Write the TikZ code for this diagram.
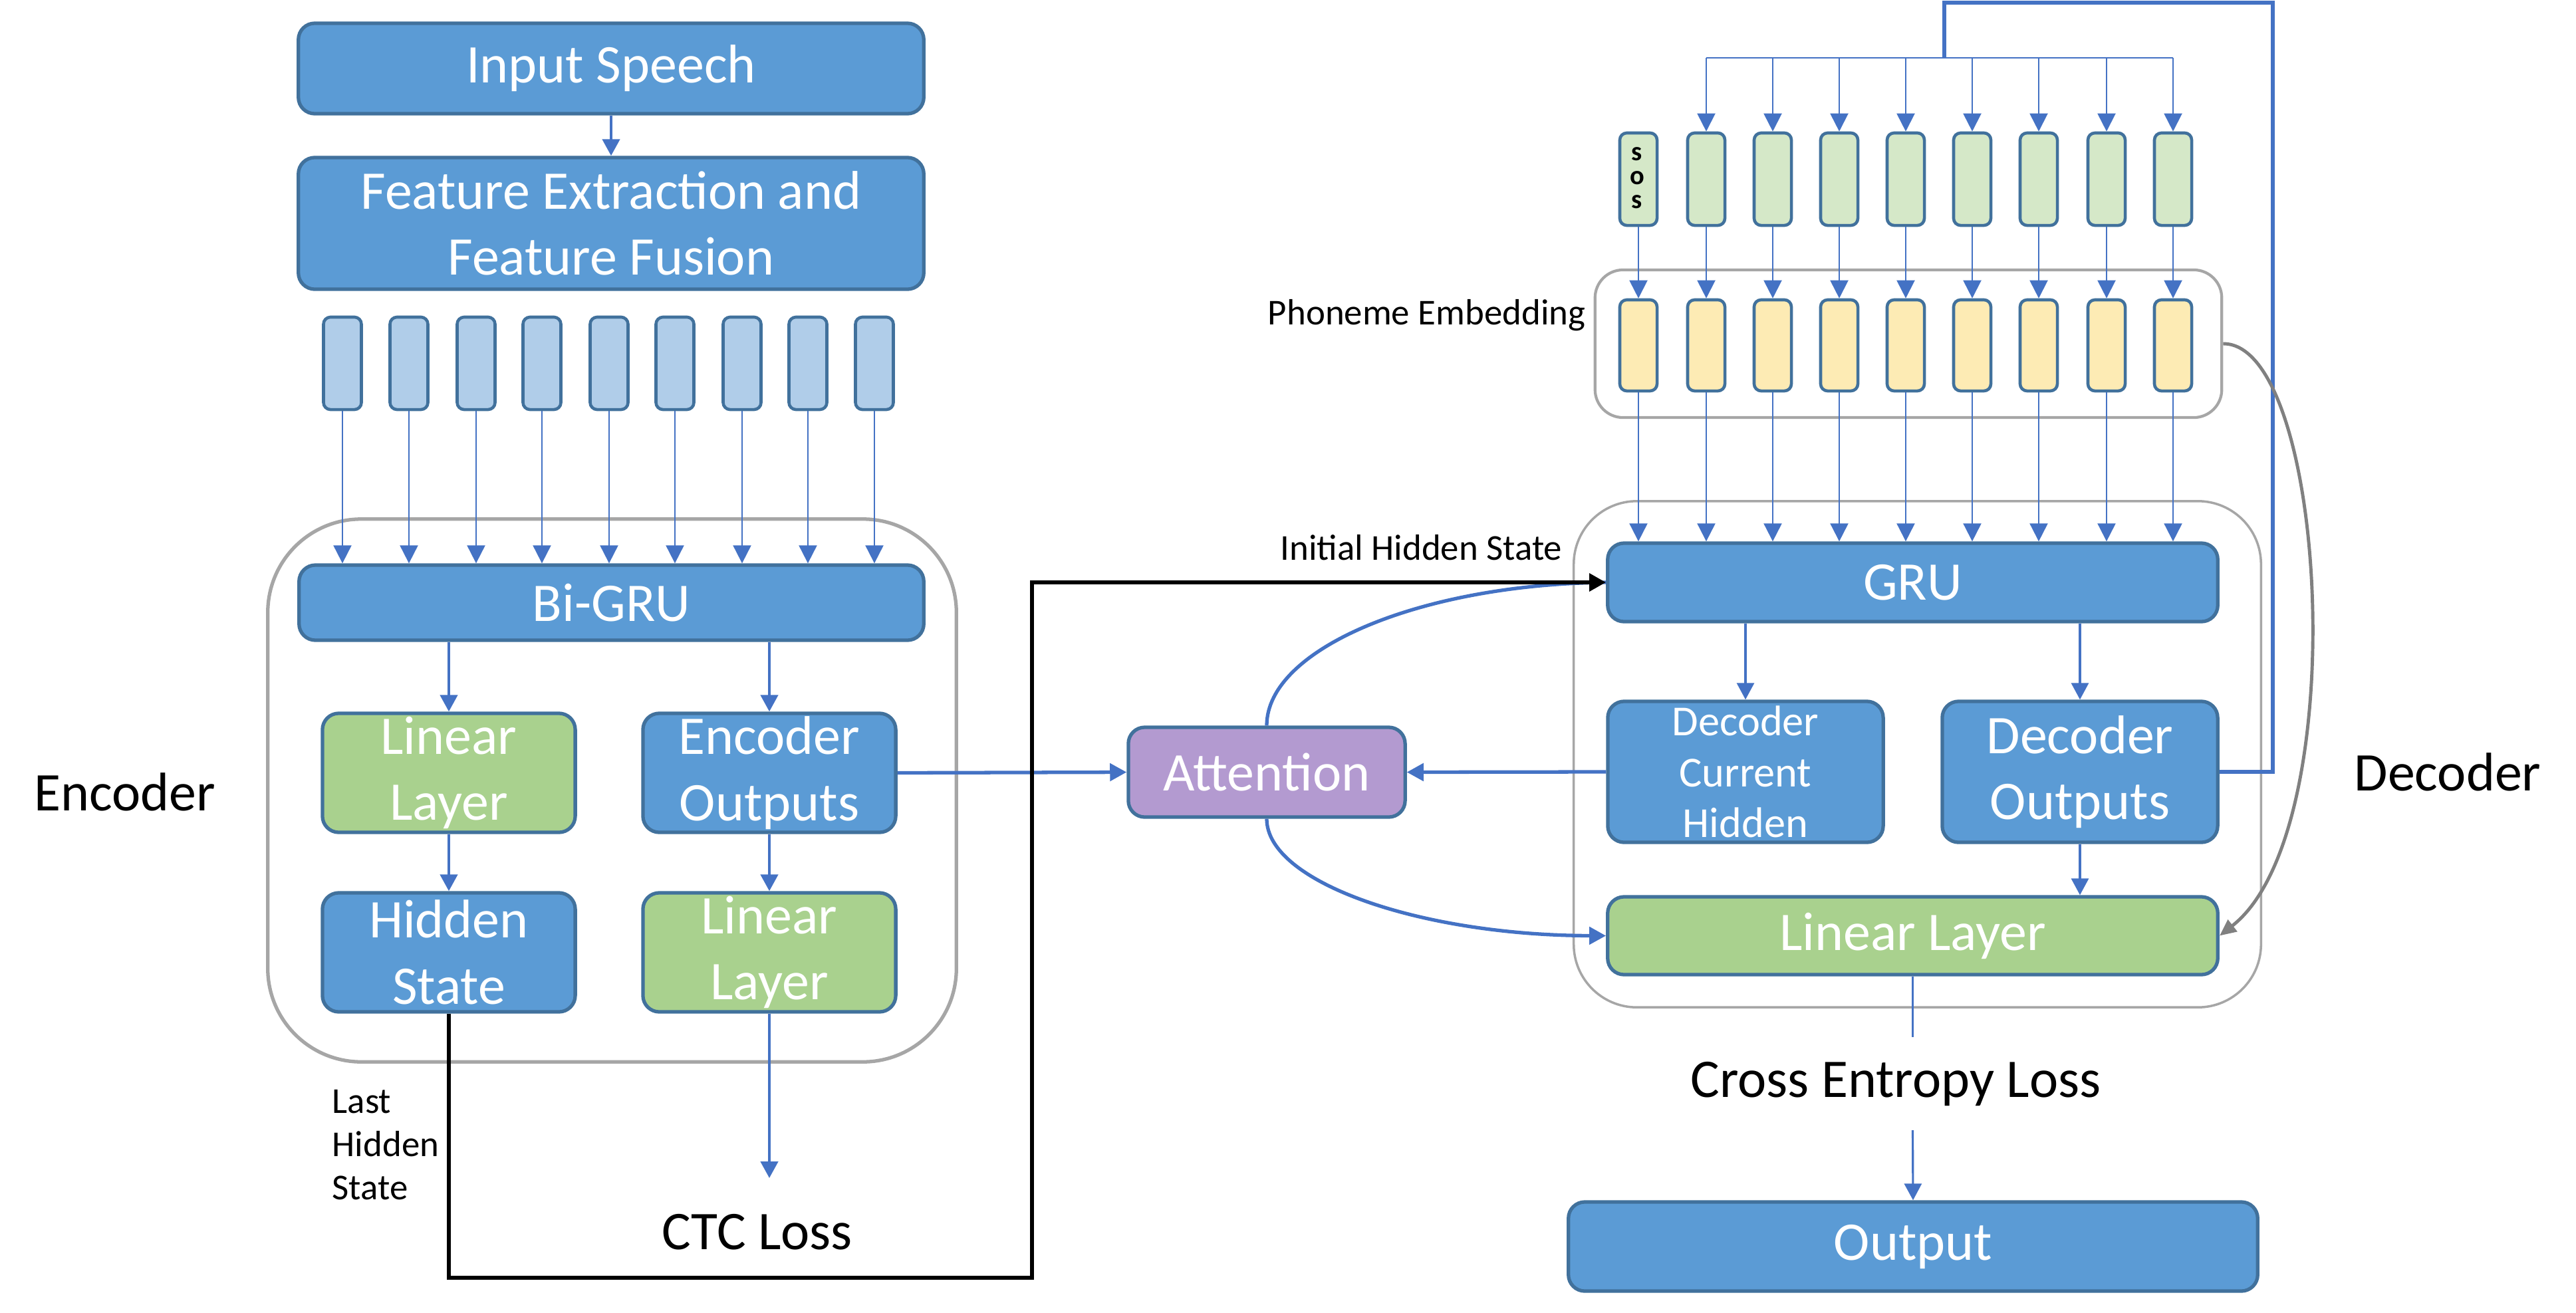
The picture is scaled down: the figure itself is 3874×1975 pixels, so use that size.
\documentclass[tikz,border=0pt]{standalone}
\usepackage{fontspec}
\setmainfont{Carlito}
\usetikzlibrary{arrows.meta}
\definecolor{bxblue}{HTML}{5B9BD5}
\definecolor{bxborder}{HTML}{41719C}
\definecolor{bxgreen}{HTML}{A9D18E}
\definecolor{barblue}{HTML}{B0CDE9}
\definecolor{phgreen}{HTML}{D5E8C8}
\definecolor{phyellow}{HTML}{FDEBB4}
\definecolor{attpurple}{HTML}{B39AD0}
\definecolor{cgrey}{HTML}{A6A6A6}
\definecolor{curvegrey}{HTML}{808080}
\definecolor{arblue}{HTML}{4472C4}
\tikzset{
  box/.style={draw=bxborder, line width=1.5pt, rounded corners=7pt, text=white, align=center, inner sep=0pt, font=\fontsize{23.3}{28.3}\selectfont},
  bluebox/.style={box, fill=bxblue},
  greenbox/.style={box, fill=bxgreen},
  purplebox/.style={box, fill=attpurple},
  colbar/.style={draw=bxborder, line width=1.3pt, rounded corners=3pt, minimum width=0.57cm, minimum height=1.39cm, inner sep=0pt},
  container/.style={draw=cgrey, line width=1pt, inner sep=0pt},
  thinarrow/.style={draw=arblue, line width=0.6pt, -{Triangle[length=0.27cm,width=0.27cm]}},
  midarrow/.style={draw=arblue, line width=1.3pt, -{Triangle[length=0.25cm,width=0.26cm]}},
  thickarrow/.style={draw=arblue, line width=1.5pt, -{Triangle[length=0.25cm,width=0.26cm]}},
  blackarrow/.style={draw=black, line width=1.8pt, -{Triangle[length=0.25cm,width=0.26cm]}},
  greyarrow/.style={draw=curvegrey, line width=1.4pt, -{Triangle[length=0.25cm,width=0.22cm]}},
  lbl/.style={text=black, inner sep=0pt},
}
\begin{document}
\begin{tikzpicture}[x=0.01cm, y=-0.01cm]
\useasboundingbox (0,0) rectangle (3874,1975);

% containers
\node[container, line width=1.5pt, rounded corners=40pt, minimum width=10.35cm, minimum height=8.16cm] (enc) at (920.5,1189) {};
\node[container, rounded corners=27pt, minimum width=10.33cm, minimum height=7.61cm] (dec) at (2883.5,1134.5) {};
\node[container, line width=1.2pt, rounded corners=12pt, minimum width=9.42cm, minimum height=2.22cm] (phon) at (2870,517) {};

% encoder side
\node[bluebox, minimum width=9.40cm, minimum height=1.36cm] (input) at (919,103) {Input Speech};
\node[bluebox, minimum width=9.40cm, minimum height=1.98cm] (feat) at (919,336) {Feature Extraction and\\Feature Fusion};
\foreach \x [count=\i from 0] in {515,615,716,815,916,1015,1116,1215,1315} {
  \node[colbar, fill=barblue] (b\i) at (\x,546.5) {};
}
\node[bluebox, minimum width=9.39cm, minimum height=1.13cm] (bigru) at (919.5,906.5) {Bi-GRU};
\node[greenbox, minimum width=3.80cm, minimum height=1.79cm] (lin1) at (675,1162.5) {Linear\\Layer};
\node[bluebox, minimum width=3.80cm, minimum height=1.79cm] (encout) at (1157,1162.5) {Encoder\\Outputs};
\node[bluebox, minimum width=3.80cm, minimum height=1.79cm] (hidden) at (675,1432.5) {Hidden\\State};
\node[greenbox, minimum width=3.80cm, minimum height=1.79cm] (lin2) at (1157,1432.5) {Linear\\Layer};

% attention
\node[purplebox, minimum width=4.16cm, minimum height=1.35cm] (att) at (1905,1161.5) {Attention};

% decoder side
\foreach \x [count=\i from 0] in {2464,2566,2666,2766,2866,2966,3066,3168,3268} {
  \node[colbar, fill=phgreen, minimum width=0.56cm] (g\i) at (\x,269.5) {};
  \node[colbar, fill=phyellow, minimum width=0.56cm, minimum height=1.37cm] (y\i) at (\x,519.5) {};
}
\node[lbl, align=center, font=\fontsize{11.5}{10.2}\selectfont\bfseries] (sos) at (2462,268) {s\\o\\s};
\node[bluebox, minimum width=9.17cm, minimum height=1.18cm] (gru) at (2876.5,876) {GRU};
\node[bluebox, minimum width=4.14cm, minimum height=2.12cm, font=\fontsize{18.3}{21.8}\selectfont] (dch) at (2625,1161) {Decoder\\Current\\Hidden};
\node[bluebox, minimum width=4.14cm, minimum height=2.12cm] (decout) at (3128,1161) {Decoder\\Outputs};
\node[greenbox, minimum width=9.17cm, minimum height=1.17cm] (declin) at (2876.5,1407.5) {Linear Layer};
\node[bluebox, minimum width=10.36cm, minimum height=1.34cm] (output) at (2877,1875) {Output};

% labels
\node[lbl, font=\fontsize{23.3}{28}\selectfont] (enclbl) at (188,1191) {Encoder};
\node[lbl, font=\fontsize{23.3}{28}\selectfont] (declbl) at (3681,1161) {Decoder};
\node[lbl, anchor=base east, font=\fontsize{15.6}{18.4}\selectfont] (ihs) at (2350,842) {Initial Hidden State};
\node[lbl, anchor=base east, font=\fontsize{15.6}{18.4}\selectfont] (phlbl) at (2385,488) {Phoneme Embedding};
\node[lbl, anchor=west, align=left, font=\fontsize{15.6}{18.4}\selectfont] (lhs) at (499,1722) {Last\\Hidden\\State};
\node[lbl, font=\fontsize{23.3}{28}\selectfont] (ctc) at (1139,1853) {CTC Loss};
\node[lbl, font=\fontsize{23.3}{28}\selectfont] (ce) at (2851,1630) {Cross Entropy Loss};

% encoder connectors
\draw[midarrow] (input.south) -- (feat.north);
\foreach \i in {0,...,8} {
  \draw[thinarrow] (b\i.south) -- (b\i.south |- bigru.north);
}
\draw[midarrow] (bigru.south -| lin1.north) -- (lin1.north);
\draw[midarrow] (bigru.south -| encout.north) -- (encout.north);
\draw[midarrow] (lin1.south) -- (hidden.north);
\draw[midarrow] (encout.south) -- (lin2.north);
\coordinate (ctcend) at (1157,1772);
\draw[midarrow] (lin2.south) -- (ctcend);

% hidden state to GRU
\coordinate (bk1) at (1552,1922);
\draw[thickarrow] (encout.east) -- (att.west);
\draw[thickarrow] (dch.west) -- (att.east);
\draw[draw=arblue, line width=1.5pt] (att.north) .. controls (1905,976) and (2136,879) .. (gru.west);
\draw[thickarrow] (att.south) .. controls (1905,1327) and (2136,1407) .. (declin.west);
\draw[blackarrow] (hidden.south) |- (bk1) |- (gru.west);

% decoder connectors
\foreach \i in {0,...,8} {
  \draw[thinarrow] (g\i.south) -- (y\i.north);
  \draw[thinarrow] (y\i.south) -- (y\i.south |- gru.north);
}
\draw[midarrow, line width=0.9pt] (gru.south -| dch.north) -- (dch.north);
\draw[midarrow, line width=0.9pt] (gru.south -| decout.north) -- (decout.north);
\draw[midarrow, line width=0.9pt] (decout.south) -- (decout.south |- declin.north);

% feedback loop
\coordinate (fb1) at (3418,4);
\coordinate (br) at (2924,87);
\draw[draw=arblue, line width=1.6pt] (decout.east) -| (fb1) -| (br);
\draw[draw=arblue, line width=0.6pt] (g1.north |- br) -- (g8.north |- br);
\foreach \i in {1,...,8} {
  \draw[thinarrow] (g\i.north |- br) -- (g\i.north);
}

% grey curve
\draw[greyarrow] (phon.east) .. controls (3500,516) and (3540,1250) .. (declin.east);

% loss
\coordinate (ce1) at (2876.5,1560);
\coordinate (ce2) at (2876.5,1700);
\draw[draw=arblue, line width=0.9pt] (declin.south) -- (ce1);
\draw[midarrow, line width=0.9pt] (ce2) -- (output.north);
\end{tikzpicture}
\end{document}
